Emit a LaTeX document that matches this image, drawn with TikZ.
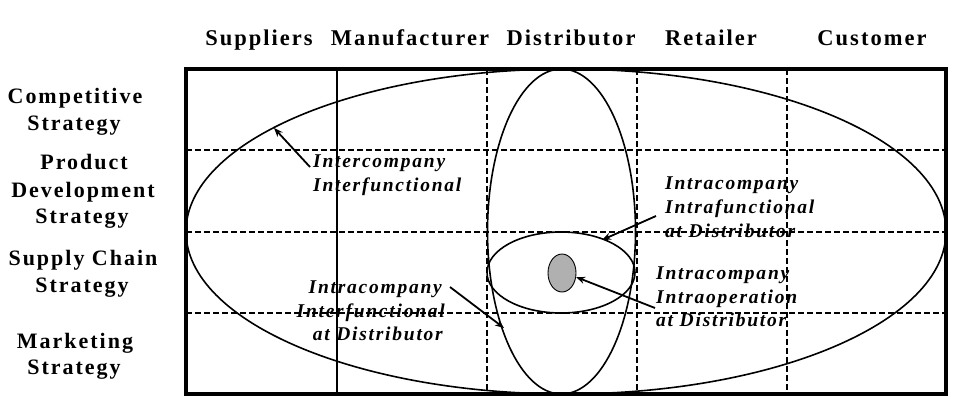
\documentclass[tikz,border=0pt]{standalone}
\usepackage{fontspec}
\setmainfont{Liberation Serif}
\newfontfamily\spacedfont[LetterSpace=9]{Liberation Serif}
\usetikzlibrary{arrows.meta}
\tikzset{
  hdr/.style={anchor=base, inner sep=0pt, font=\spacedfont\bfseries\fontsize{22.5}{26}\selectfont},
  side/.style={anchor=base, inner sep=0pt, font=\spacedfont\bfseries\fontsize{22}{26}\selectfont},
  lbl/.style={inner sep=0pt, font=\spacedfont\bfseries\itshape\fontsize{19.5}{23}\selectfont},
  grid/.style={line width=1.9pt},
  dgrid/.style={line width=1.9pt, dash pattern=on 6pt off 3pt},
  oval/.style={line width=1.6pt},
  arr/.style={line width=1.8pt, -{Stealth[length=9pt,width=7pt]}}
}
\begin{document}
\begin{tikzpicture}[x=1pt,y=-1pt]
\useasboundingbox (0,0) rectangle (960,415);
% grid
\draw[grid] (337,69) -- (337,394);
\draw[dgrid] (487,69) -- (487,394);
\draw[dgrid] (637,69) -- (637,394);
\draw[dgrid] (787,69) -- (787,394);
\draw[dgrid] (186,150) -- (946,150);
\draw[dgrid] (186,232) -- (946,232);
\draw[dgrid] (186,313) -- (946,313);
% ellipses
\draw[oval] (566,231.5) ellipse [x radius=380, y radius=162.5];
\draw[oval] (561.5,231.5) ellipse [x radius=74, y radius=162.5];
\draw[oval] (561,272.5) ellipse [x radius=74, y radius=40.5];
\draw[line width=0.9pt, fill=black!31] (562,273) ellipse [x radius=14, y radius=19];
% frame
\draw[line width=4pt] (186,69) rectangle (946,394);
% headers
\node[hdr] (h1) at (259,45) {Suppliers};
\node[hdr] (h2) at (410,45) {Manufacturer};
\node[hdr] (h3) at (571,45) {Distributor};
\node[hdr] (h4) at (711,45) {Retailer};
\node[hdr] (h5) at (872,45) {Customer};
% side labels
\node[side] (s1a) at (75,103) {Competitive};
\node[side] (s1b) at (74,130) {Strategy};
\node[side] (s2a) at (84,169) {Product};
\node[side] (s2b) at (83,197) {Development};
\node[side] (s2c) at (82,223) {Strategy};
\node[side] (s3a) at (83,265) {Supply Chain};
\node[side] (s3b) at (82,292) {Strategy};
\node[side] (s4a) at (75,348) {Marketing};
\node[side] (s4b) at (74,374) {Strategy};
% italic labels
\node[lbl, anchor=base west] (a1) at (313,167) {Intercompany};
\node[lbl, anchor=base west] (a2) at (313,191) {Interfunctional};
\node[lbl, anchor=base west] (b1) at (665,189) {Intracompany};
\node[lbl, anchor=base west] (b2) at (665,213) {Intrafunctional};
\node[lbl, anchor=base west] (b3) at (665,237) {at Distributor};
\node[lbl, anchor=base west] (c1) at (656,279) {Intracompany};
\node[lbl, anchor=base west] (c2) at (656,303) {Intraoperation};
\node[lbl, anchor=base west] (c3) at (656,326) {at Distributor};
\node[lbl, anchor=base east] (d1) at (442,293) {Intracompany};
\node[lbl, anchor=base east] (d2) at (445,317) {Interfunctional};
\node[lbl, anchor=base east] (d3) at (443,340) {at Distributor};
% arrows
\coordinate (t1) at (274,128);
\coordinate (t2) at (602,240);
\coordinate (t3) at (576,277);
\coordinate (t4) at (504,328);
\draw[arr] ([xshift=-3pt]a1.base west) -- (t1);
\draw[arr] ([xshift=-9pt,yshift=-3pt]b2.base west) -- (t2);
\draw[arr] ([xshift=-1pt,yshift=-5pt]c2.base west) -- (t3);
\draw[arr] ([xshift=8pt,yshift=6pt]d1.base east) -- (t4);
\end{tikzpicture}
\end{document}
